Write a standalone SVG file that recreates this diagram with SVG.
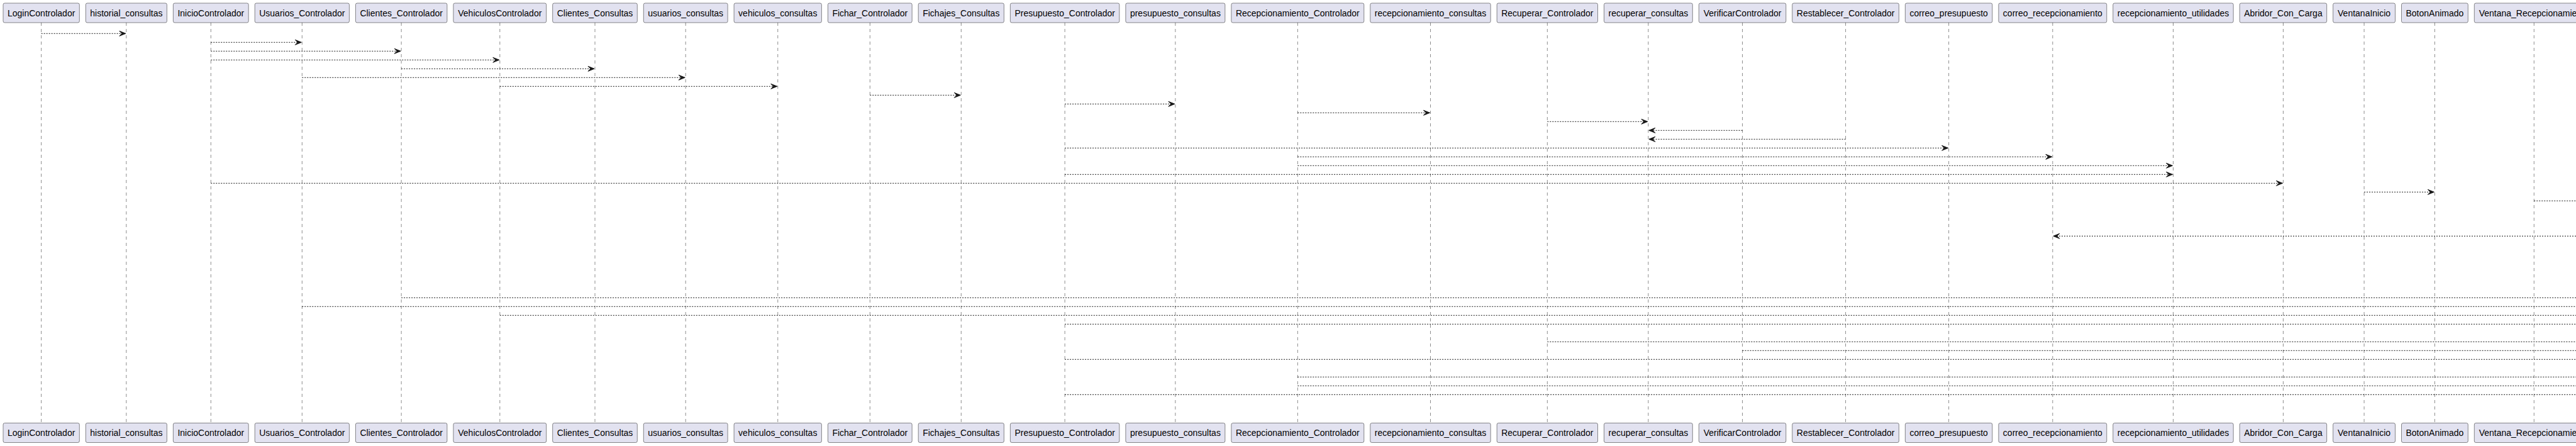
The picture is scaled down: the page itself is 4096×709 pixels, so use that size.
<svg xmlns="http://www.w3.org/2000/svg" width="4096" height="709" viewBox="0 0 4096 709">
<style>
.box{fill:#E2E2F0;stroke:#181818;stroke-width:0.5}
.lbl{font-family:"Liberation Sans",Arial,sans-serif;font-size:14px;fill:#000000;text-anchor:middle}
.life{stroke:#181818;stroke-width:0.5;stroke-dasharray:5,5;fill:none}
.msg{stroke:#181818;stroke-width:1;stroke-dasharray:2,2;fill:none}
.arr{marker-end:url(#ah)}
</style>
<defs>
<marker id="ah" viewBox="0 0 10 8" markerWidth="10" markerHeight="8" refX="10" refY="4" orient="auto" markerUnits="userSpaceOnUse" style="overflow:visible">
<path d="M0,0 L10,4 L0,8 L4,4 Z" fill="#181818" stroke="#181818" stroke-width="1"/>
</marker>
</defs>
<rect x="0" y="0" width="4096" height="709" fill="#FFFFFF"/>
<g id="nodes">
<g id="LoginControlador"><line class="life" x1="65.65" y1="36" x2="65.65" y2="672.5"/><rect class="box" x="5" y="5" width="121.3" height="31" rx="2.5"/><text class="lbl" x="65.65" y="25.5">LoginControlador</text><rect class="box" x="5" y="672.5" width="121.3" height="31" rx="2.5"/><text class="lbl" x="65.65" y="693">LoginControlador</text></g>
<g id="historial_consultas"><line class="life" x1="200.85" y1="36" x2="200.85" y2="672.5"/><rect class="box" x="136.3" y="5" width="129.1" height="31" rx="2.5"/><text class="lbl" x="200.85" y="25.5">historial_consultas</text><rect class="box" x="136.3" y="672.5" width="129.1" height="31" rx="2.5"/><text class="lbl" x="200.85" y="693">historial_consultas</text></g>
<g id="InicioControlador"><line class="life" x1="335.3" y1="36" x2="335.3" y2="672.5"/><rect class="box" x="275.4" y="5" width="119.8" height="31" rx="2.5"/><text class="lbl" x="335.3" y="25.5">InicioControlador</text><rect class="box" x="275.4" y="672.5" width="119.8" height="31" rx="2.5"/><text class="lbl" x="335.3" y="693">InicioControlador</text></g>
<g id="Usuarios_Controlador"><line class="life" x1="480.3" y1="36" x2="480.3" y2="672.5"/><rect class="box" x="405.2" y="5" width="150.2" height="31" rx="2.5"/><text class="lbl" x="480.3" y="25.5">Usuarios_Controlador</text><rect class="box" x="405.2" y="672.5" width="150.2" height="31" rx="2.5"/><text class="lbl" x="480.3" y="693">Usuarios_Controlador</text></g>
<g id="Clientes_Controlador"><line class="life" x1="638.15" y1="36" x2="638.15" y2="672.5"/><rect class="box" x="565.4" y="5" width="145.5" height="31" rx="2.5"/><text class="lbl" x="638.15" y="25.5">Clientes_Controlador</text><rect class="box" x="565.4" y="672.5" width="145.5" height="31" rx="2.5"/><text class="lbl" x="638.15" y="693">Clientes_Controlador</text></g>
<g id="VehiculosControlador"><line class="life" x1="794.8" y1="36" x2="794.8" y2="672.5"/><rect class="box" x="720.9" y="5" width="147.8" height="31" rx="2.5"/><text class="lbl" x="794.8" y="25.5">VehiculosControlador</text><rect class="box" x="720.9" y="672.5" width="147.8" height="31" rx="2.5"/><text class="lbl" x="794.8" y="693">VehiculosControlador</text></g>
<g id="Clientes_Consultas"><line class="life" x1="946" y1="36" x2="946" y2="672.5"/><rect class="box" x="878.7" y="5" width="134.6" height="31" rx="2.5"/><text class="lbl" x="946" y="25.5">Clientes_Consultas</text><rect class="box" x="878.7" y="672.5" width="134.6" height="31" rx="2.5"/><text class="lbl" x="946" y="693">Clientes_Consultas</text></g>
<g id="usuarios_consultas"><line class="life" x1="1090.2" y1="36" x2="1090.2" y2="672.5"/><rect class="box" x="1023.3" y="5" width="133.8" height="31" rx="2.5"/><text class="lbl" x="1090.2" y="25.5">usuarios_consultas</text><rect class="box" x="1023.3" y="672.5" width="133.8" height="31" rx="2.5"/><text class="lbl" x="1090.2" y="693">usuarios_consultas</text></g>
<g id="vehiculos_consultas"><line class="life" x1="1236.75" y1="36" x2="1236.75" y2="672.5"/><rect class="box" x="1167.1" y="5" width="139.3" height="31" rx="2.5"/><text class="lbl" x="1236.75" y="25.5">vehiculos_consultas</text><rect class="box" x="1167.1" y="672.5" width="139.3" height="31" rx="2.5"/><text class="lbl" x="1236.75" y="693">vehiculos_consultas</text></g>
<g id="Fichar_Controlador"><line class="life" x1="1383.3" y1="36" x2="1383.3" y2="672.5"/><rect class="box" x="1316.4" y="5" width="133.8" height="31" rx="2.5"/><text class="lbl" x="1383.3" y="25.5">Fichar_Controlador</text><rect class="box" x="1316.4" y="672.5" width="133.8" height="31" rx="2.5"/><text class="lbl" x="1383.3" y="693">Fichar_Controlador</text></g>
<g id="Fichajes_Consultas"><line class="life" x1="1528.3" y1="36" x2="1528.3" y2="672.5"/><rect class="box" x="1460.2" y="5" width="136.2" height="31" rx="2.5"/><text class="lbl" x="1528.3" y="25.5">Fichajes_Consultas</text><rect class="box" x="1460.2" y="672.5" width="136.2" height="31" rx="2.5"/><text class="lbl" x="1528.3" y="693">Fichajes_Consultas</text></g>
<g id="Presupuesto_Controlador"><line class="life" x1="1693.15" y1="36" x2="1693.15" y2="672.5"/><rect class="box" x="1606.4" y="5" width="173.5" height="31" rx="2.5"/><text class="lbl" x="1693.15" y="25.5">Presupuesto_Controlador</text><rect class="box" x="1606.4" y="672.5" width="173.5" height="31" rx="2.5"/><text class="lbl" x="1693.15" y="693">Presupuesto_Controlador</text></g>
<g id="presupuesto_consultas"><line class="life" x1="1868.9" y1="36" x2="1868.9" y2="672.5"/><rect class="box" x="1789.9" y="5" width="158" height="31" rx="2.5"/><text class="lbl" x="1868.9" y="25.5">presupuesto_consultas</text><rect class="box" x="1789.9" y="672.5" width="158" height="31" rx="2.5"/><text class="lbl" x="1868.9" y="693">presupuesto_consultas</text></g>
<g id="Recepcionamiento_Controlador"><line class="life" x1="2063.35" y1="36" x2="2063.35" y2="672.5"/><rect class="box" x="1957.9" y="5" width="210.9" height="31" rx="2.5"/><text class="lbl" x="2063.35" y="25.5">Recepcionamiento_Controlador</text><rect class="box" x="1957.9" y="672.5" width="210.9" height="31" rx="2.5"/><text class="lbl" x="2063.35" y="693">Recepcionamiento_Controlador</text></g>
<g id="recepcionamiento_consultas"><line class="life" x1="2274.5" y1="36" x2="2274.5" y2="672.5"/><rect class="box" x="2178.8" y="5" width="191.4" height="31" rx="2.5"/><text class="lbl" x="2274.5" y="25.5">recepcionamiento_consultas</text><rect class="box" x="2178.8" y="672.5" width="191.4" height="31" rx="2.5"/><text class="lbl" x="2274.5" y="693">recepcionamiento_consultas</text></g>
<g id="Recuperar_Controlador"><line class="life" x1="2460.35" y1="36" x2="2460.35" y2="672.5"/><rect class="box" x="2380.2" y="5" width="160.3" height="31" rx="2.5"/><text class="lbl" x="2460.35" y="25.5">Recuperar_Controlador</text><rect class="box" x="2380.2" y="672.5" width="160.3" height="31" rx="2.5"/><text class="lbl" x="2460.35" y="693">Recuperar_Controlador</text></g>
<g id="recuperar_consultas"><line class="life" x1="2620.9" y1="36" x2="2620.9" y2="672.5"/><rect class="box" x="2550.5" y="5" width="140.8" height="31" rx="2.5"/><text class="lbl" x="2620.9" y="25.5">recuperar_consultas</text><rect class="box" x="2550.5" y="672.5" width="140.8" height="31" rx="2.5"/><text class="lbl" x="2620.9" y="693">recuperar_consultas</text></g>
<g id="VerificarControlador"><line class="life" x1="2770.55" y1="36" x2="2770.55" y2="672.5"/><rect class="box" x="2701.3" y="5" width="138.5" height="31" rx="2.5"/><text class="lbl" x="2770.55" y="25.5">VerificarControlador</text><rect class="box" x="2701.3" y="672.5" width="138.5" height="31" rx="2.5"/><text class="lbl" x="2770.55" y="693">VerificarControlador</text></g>
<g id="Restablecer_Controlador"><line class="life" x1="2934.6" y1="36" x2="2934.6" y2="672.5"/><rect class="box" x="2849.8" y="5" width="169.6" height="31" rx="2.5"/><text class="lbl" x="2934.6" y="25.5">Restablecer_Controlador</text><rect class="box" x="2849.8" y="672.5" width="169.6" height="31" rx="2.5"/><text class="lbl" x="2934.6" y="693">Restablecer_Controlador</text></g>
<g id="correo_presupuesto"><line class="life" x1="3098.65" y1="36" x2="3098.65" y2="672.5"/><rect class="box" x="3029.4" y="5" width="138.5" height="31" rx="2.5"/><text class="lbl" x="3098.65" y="25.5">correo_presupuesto</text><rect class="box" x="3029.4" y="672.5" width="138.5" height="31" rx="2.5"/><text class="lbl" x="3098.65" y="693">correo_presupuesto</text></g>
<g id="correo_recepcionamiento"><line class="life" x1="3263.85" y1="36" x2="3263.85" y2="672.5"/><rect class="box" x="3177.9" y="5" width="171.9" height="31" rx="2.5"/><text class="lbl" x="3263.85" y="25.5">correo_recepcionamiento</text><rect class="box" x="3177.9" y="672.5" width="171.9" height="31" rx="2.5"/><text class="lbl" x="3263.85" y="693">correo_recepcionamiento</text></g>
<g id="recepcionamiento_utilidades"><line class="life" x1="3455.5" y1="36" x2="3455.5" y2="672.5"/><rect class="box" x="3359.8" y="5" width="191.4" height="31" rx="2.5"/><text class="lbl" x="3455.5" y="25.5">recepcionamiento_utilidades</text><rect class="box" x="3359.8" y="672.5" width="191.4" height="31" rx="2.5"/><text class="lbl" x="3455.5" y="693">recepcionamiento_utilidades</text></g>
<g id="Abridor_Con_Carga"><line class="life" x1="3630.45" y1="36" x2="3630.45" y2="672.5"/><rect class="box" x="3561.2" y="5" width="138.5" height="31" rx="2.5"/><text class="lbl" x="3630.45" y="25.5">Abridor_Con_Carga</text><rect class="box" x="3561.2" y="672.5" width="138.5" height="31" rx="2.5"/><text class="lbl" x="3630.45" y="693">Abridor_Con_Carga</text></g>
<g id="VentanaInicio"><line class="life" x1="3759.1" y1="36" x2="3759.1" y2="672.5"/><rect class="box" x="3709.7" y="5" width="98.8" height="31" rx="2.5"/><text class="lbl" x="3759.1" y="25.5">VentanaInicio</text><rect class="box" x="3709.7" y="672.5" width="98.8" height="31" rx="2.5"/><text class="lbl" x="3759.1" y="693">VentanaInicio</text></g>
<g id="BotonAnimado"><line class="life" x1="3871.4" y1="36" x2="3871.4" y2="672.5"/><rect class="box" x="3818.5" y="5" width="105.8" height="31" rx="2.5"/><text class="lbl" x="3871.4" y="25.5">BotonAnimado</text><rect class="box" x="3818.5" y="672.5" width="105.8" height="31" rx="2.5"/><text class="lbl" x="3871.4" y="693">BotonAnimado</text></g>
<g id="Ventana_Recepcionamiento"><line class="life" x1="4029.25" y1="36" x2="4029.25" y2="672.5"/><rect class="box" x="3934.3" y="5" width="189.9" height="31" rx="2.5"/><text class="lbl" x="4029.25" y="25.5">Ventana_Recepcionamiento</text><rect class="box" x="3934.3" y="672.5" width="189.9" height="31" rx="2.5"/><text class="lbl" x="4029.25" y="693">Ventana_Recepcionamiento</text></g>
</g>
<g id="connectors">
<line class="msg arr" x1="65.65" y1="53.3" x2="199.85" y2="53.3"/>
<line class="msg arr" x1="335.3" y1="67.3" x2="479.3" y2="67.3"/>
<line class="msg arr" x1="335.3" y1="81.3" x2="637.15" y2="81.3"/>
<line class="msg arr" x1="335.3" y1="95.3" x2="793.8" y2="95.3"/>
<line class="msg arr" x1="638.15" y1="109.3" x2="945" y2="109.3"/>
<line class="msg arr" x1="480.3" y1="123.3" x2="1089.2" y2="123.3"/>
<line class="msg arr" x1="794.8" y1="137.3" x2="1235.75" y2="137.3"/>
<line class="msg arr" x1="1383.3" y1="151.3" x2="1527.3" y2="151.3"/>
<line class="msg arr" x1="1693.15" y1="165.3" x2="1867.9" y2="165.3"/>
<line class="msg arr" x1="2063.35" y1="179.3" x2="2273.5" y2="179.3"/>
<line class="msg arr" x1="2460.35" y1="193.3" x2="2619.9" y2="193.3"/>
<line class="msg arr" x1="2770.55" y1="207.3" x2="2621.9" y2="207.3"/>
<line class="msg arr" x1="2934.6" y1="221.3" x2="2621.9" y2="221.3"/>
<line class="msg arr" x1="1693.15" y1="235.3" x2="3097.65" y2="235.3"/>
<line class="msg arr" x1="2063.35" y1="249.3" x2="3262.85" y2="249.3"/>
<line class="msg arr" x1="2063.35" y1="263.3" x2="3454.5" y2="263.3"/>
<line class="msg arr" x1="1693.15" y1="277.3" x2="3454.5" y2="277.3"/>
<line class="msg arr" x1="335.3" y1="291.3" x2="3629.45" y2="291.3"/>
<line class="msg arr" x1="3759.1" y1="305.3" x2="3870.4" y2="305.3"/>
<line class="msg" x1="4029.25" y1="319.3" x2="4096" y2="319.3"/>
<line class="msg arr" x1="4096" y1="375.3" x2="3264.85" y2="375.3"/>
<line class="msg" x1="638.15" y1="473.3" x2="4096" y2="473.3"/>
<line class="msg" x1="480.3" y1="487.3" x2="4096" y2="487.3"/>
<line class="msg" x1="794.8" y1="501.3" x2="4096" y2="501.3"/>
<line class="msg" x1="1693.15" y1="515.3" x2="4096" y2="515.3"/>
<line class="msg" x1="2460.35" y1="543.3" x2="4096" y2="543.3"/>
<line class="msg" x1="2770.55" y1="557.3" x2="4096" y2="557.3"/>
<line class="msg" x1="1693.15" y1="571.3" x2="4096" y2="571.3"/>
<line class="msg" x1="2063.35" y1="599.3" x2="4096" y2="599.3"/>
<line class="msg" x1="2063.35" y1="613.3" x2="4096" y2="613.3"/>
<line class="msg" x1="1693.15" y1="627.3" x2="4096" y2="627.3"/>
</g>
</svg>
